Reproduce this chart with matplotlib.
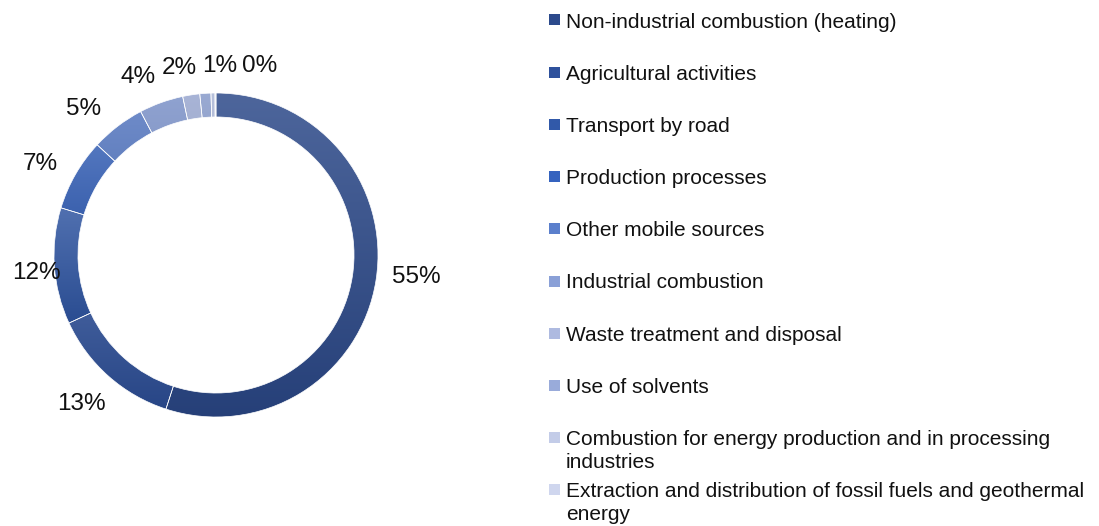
import numpy as np
import matplotlib
matplotlib.use('Agg')
import matplotlib.pyplot as plt
from matplotlib.colors import to_rgb
from matplotlib.patches import Rectangle

plt.rcParams['font.family'] = ['Liberation Sans', 'DejaVu Sans']

# data (shares in %)
sources = ['Non-industrial combustion (heating)', 'Agricultural activities', 'Transport by road',
           'Production processes', 'Other mobile sources', 'Industrial combustion',
           'Waste treatment and disposal', 'Use of solvents',
           'Combustion for energy production and in processing\nindustries',
           'Extraction and distribution of fossil fuels and geothermal\nenergy']
shares = [55.0, 13.1, 11.6, 7.2, 5.4, 4.4, 1.7, 1.1, 0.4, 0.1]
show_label = [True] * 9 + [False]   # last label is hidden in the original
colors = ['#2c4a8c', '#2e519c', '#3159a9', '#3563bf', '#5b7fcc', '#8aa0d7',
          '#aebae0', '#99abda', '#c3cce8', '#cfd6ee']

W, H = 1099, 526
fig = plt.figure(figsize=(W / 100, H / 100), dpi=100)

# donut axes
cx, cy, R = 216, 255, 162
half = 200
ax = fig.add_axes([(cx - half) / W, (H - cy - half) / H, 2 * half / W, 2 * half / H])
wedges, _ = ax.pie(shares, colors=colors, startangle=90, counterclock=False, radius=1,
                   wedgeprops=dict(width=0.148, edgecolor='white', linewidth=0.5))


def mix(c1, c2, t):
    a, b = np.array(to_rgb(c1)), np.array(to_rgb(c2))
    return a * (1 - t) + b * t


# gradient fill, lighter on top, darker at the bottom of each wedge
for w, c in zip(wedges, colors):
    v = w.get_path().vertices
    top = mix(c, '#9aa6c0', 0.3)
    bot = mix(c, '#000000', 0.14)
    t = np.linspace(0, 1, 100)[:, None]
    img = (top[None, :] * (1 - t) + bot[None, :] * t)[:, None, :].repeat(2, axis=1)
    im = ax.imshow(img, extent=[v[:, 0].min(), v[:, 0].max(), v[:, 1].min(), v[:, 1].max()],
                   origin='upper', aspect='auto', zorder=1, interpolation='bilinear')
    im.set_clip_path(w)
    w.set_facecolor('none')
    w.set_zorder(3)

lim = half / R
ax.set_xlim(-lim, lim)
ax.set_ylim(-lim, lim)
ax.axis('off')

# percentage labels: the box corner nearest the centre sits just outside the ring
texts = []
for w, s, show in zip(wedges, shares, show_label):
    if not show:
        continue
    texts.append((ax.text(0, 0, f'{s:.0f}%', ha='center', va='center',
                          fontsize=17.5, color='#111111'), w))

fig.canvas.draw()
r = fig.canvas.get_renderer()
inv = ax.transData.inverted()
center_px = ax.transData.transform((0, 0))

placed = []
for t, w in texts:
    mid = (w.theta1 + w.theta2) / 2
    is_top = np.sin(np.deg2rad(mid)) > 0.9
    ang = np.deg2rad(mid if is_top else mid + 3)
    ux, uy = np.cos(ang), np.sin(ang)
    d = 178 if is_top else 177
    b = t.get_window_extent(r)
    px = center_px[0] + d * ux + b.width / 2 * np.clip(ux / 0.3, -1, 1)
    py = center_px[1] + d * uy + b.height / 2 * np.clip(uy / 0.3, -1, 1)
    if px - b.width / 2 < 12:   # keep inside the figure
        px = 12 + b.width / 2
        py += 8
    t.set_position(inv.transform((px, py)))
    placed.append((t, is_top))

# crowded labels at the top are pushed clockwise one after another
top_lbls = [t for t, is_top in placed if is_top]
gap = 5
for prev, cur in zip(top_lbls[:-1], top_lbls[1:]):
    pb = prev.get_window_extent(r)
    cb = cur.get_window_extent(r)
    if cb.x0 < pb.x1 + gap:
        xy = ax.transData.transform(cur.get_position())
        cur.set_position(inv.transform((pb.x1 + gap + cb.width / 2, xy[1])))

# legend
y0, step, line_h = 20, 52.2, 23
for i, (lab, c) in enumerate(zip(sources, colors)):
    yc = y0 + i * step
    nl = lab.count('\n')
    fig.patches.append(Rectangle((549 / W, 1 - (yc + 5.5) / H), 11 / W, 11 / H,
                                 transform=fig.transFigure, facecolor=c, edgecolor='none'))
    fig.text(566 / W, 1 - (yc + 7.5 + nl * line_h) / H, lab, ha='left', va='baseline',
             fontsize=15, color='#111111', linespacing=1.28)

fig.savefig('out.png', dpi=100)
